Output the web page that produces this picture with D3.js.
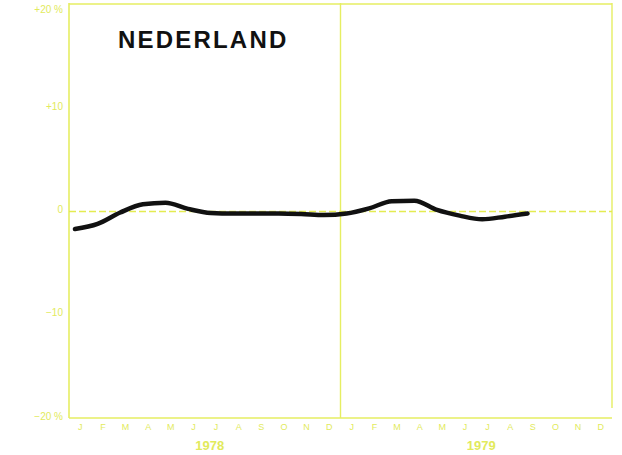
<!DOCTYPE html>
<html>
<head>
<meta charset="utf-8">
<script src="https://cdn.jsdelivr.net/npm/d3@7"></script>
<style>
html,body{margin:0;padding:0;background:#ffffff;}
svg{display:block;}
</style>
</head>
<body>
<svg id="chart" width="622" height="455"></svg>
<script>
// ---- data ----
const title = "NEDERLAND";
const years = ["1978", "1979"];
const monthLetters = ["J","F","M","A","M","J","J","A","S","O","N","D"];
const yTickValues = [20, 10, 0, -10, -20];
const yTickLabels = ["+20 %", "+10", "0", "−10", "−20 %"];
// monthly index deviation (%), Jan 1978 .. Sep 1979
const values = [-1.7, -1.2, -0.1, 0.7, 0.85, 0.25, -0.15, -0.2, -0.2, -0.2, -0.25, -0.35,
                -0.2, 0.3, 1.0, 1.05, 0.15, -0.4, -0.75, -0.5, -0.2];

// ---- layout ----
const W = 622, H = 455;
const L = 69, R = 612, T = 5, B = 418;
const gridCol = "#e6ee62";
const textCol = "#e2ea5c";

const svg = d3.select("#chart");

const months = [];
years.forEach(y => monthLetters.forEach((m, i) => months.push(y + "-" + i)));

const x = d3.scaleBand().domain(months).range([L, R]).padding(0);
const y = d3.scaleLinear().domain([-20, 20]).range([B, T]);

// frame / grid
const g = svg.append("g");
g.append("line").attr("x1", L).attr("x2", L).attr("y1", T - 2).attr("y2", B)
  .attr("stroke", gridCol).attr("stroke-width", 1.6);
g.append("line").attr("x1", L).attr("x2", R).attr("y1", T - 1).attr("y2", T - 1)
  .attr("stroke", gridCol).attr("stroke-width", 1.6);
g.append("line").attr("x1", L).attr("x2", R).attr("y1", B).attr("y2", B)
  .attr("stroke", gridCol).attr("stroke-width", 1.6);
g.append("line").attr("x1", R).attr("x2", R).attr("y1", T - 2).attr("y2", B - 10)
  .attr("stroke", gridCol).attr("stroke-width", 1.4);
// year divider
const div = x(years[1] + "-0");
g.append("line").attr("x1", div).attr("x2", div).attr("y1", T - 2).attr("y2", B)
  .attr("stroke", gridCol).attr("stroke-width", 1.4);
// zero line dashed
g.append("line").attr("x1", L).attr("x2", R).attr("y1", y(0)).attr("y2", y(0))
  .attr("stroke", "#e4ec50").attr("stroke-width", 1.4).attr("stroke-dasharray", "7,3");

// y labels
const yAxis = d3.axisLeft(y).tickValues(yTickValues)
  .tickFormat((d, i) => yTickLabels[i]).tickSize(0).tickPadding(6);
const ya = svg.append("g").attr("transform", `translate(${L},0)`).call(yAxis);
ya.select(".domain").remove();
ya.selectAll("text").attr("fill", textCol).attr("font-family", "Liberation Sans, Arial, sans-serif")
  .attr("font-size", 10).attr("dy", (d, i) => i === 0 ? "0.75em" : "0.1em");

// month letters
const xAxis = d3.axisBottom(x).tickFormat(d => monthLetters[+d.split("-")[1]]).tickSize(0).tickPadding(6);
const xa = svg.append("g").attr("transform", `translate(0,${B})`).call(xAxis);
xa.select(".domain").remove();
xa.selectAll("text").attr("fill", textCol).attr("font-family", "Liberation Sans, Arial, sans-serif")
  .attr("font-size", 9);

// year labels
svg.selectAll("text.year").data(years).enter().append("text").attr("class", "year")
  .attr("x", d => (x(d + "-0") + x(d + "-11") + x.bandwidth()) / 2 + 5)
  .attr("y", 450)
  .attr("text-anchor", "middle")
  .attr("font-family", "Liberation Sans, Arial, sans-serif")
  .attr("font-weight", "bold").attr("font-size", 13)
  .attr("fill", textCol).text(d => d);

// title
svg.append("text").attr("x", 118).attr("y", 48)
  .attr("font-family", "Liberation Sans, Arial, sans-serif")
  .attr("font-weight", "bold").attr("font-size", 24)
  .attr("letter-spacing", "2.2")
  .attr("fill", "#111").text(title);

// data line
const line = d3.line()
  .x((d, i) => x(months[i]) + 6)
  .y(d => y(d))
  .curve(d3.curveMonotoneX);
svg.append("path").datum(values).attr("d", line)
  .attr("fill", "none").attr("stroke", "#111").attr("stroke-width", 4.5)
  .attr("stroke-linecap", "round").attr("stroke-linejoin", "round");
</script>
</body>
</html>
